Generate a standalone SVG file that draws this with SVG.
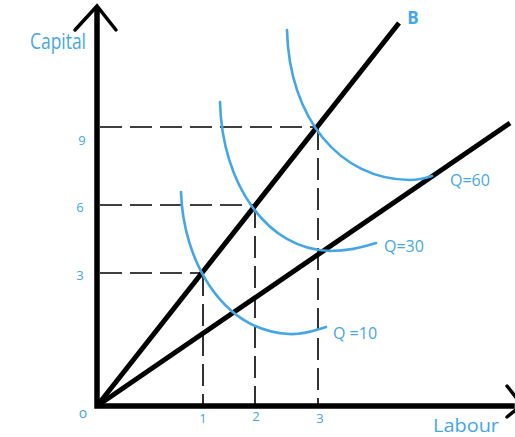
<svg xmlns="http://www.w3.org/2000/svg" width="515" height="437" viewBox="0 0 515 437">
<style>
.axis{stroke:#000;stroke-width:5.5;fill:none;stroke-linecap:square}
.head{stroke:#000;stroke-width:3.5;fill:none;stroke-linecap:round;stroke-linejoin:miter}
.ray{stroke:#000;stroke-width:5;fill:none;stroke-linecap:butt}
.dash{stroke:#000;stroke-width:1.6;fill:none;stroke-dasharray:22 8}
.iso{stroke:#45a6e6;stroke-width:2.6;fill:none;stroke-linecap:round}
.lbl{fill:#45a6e6;font-family:"Open Sans","Noto Sans",sans-serif}
</style>
<rect width="515" height="437" fill="#fff"/>
<g id="connectors">
<path class="dash" d="M100,127 H316"/>
<path class="dash" d="M100,205 H254"/>
<path class="dash" d="M100,273 H201"/>
<path class="dash" d="M203,274 V404"/>
<path class="dash" d="M255,206 V404"/>
<path class="dash" d="M318,128 V404"/>
<path class="ray" d="M97,406 L399,23"/>
<path class="ray" d="M97,406 L510,123"/>
</g>
<g id="axes">
<path class="axis" d="M97,10 V406 H512"/>
<path class="head" d="M75,30 L97,6 L116,30"/>
<path class="head" d="M507,386 L522,405 L507,417"/>
<text class="lbl" x="30" y="49" font-size="21" textLength="56" lengthAdjust="spacingAndGlyphs">Capital</text>
<text class="lbl" x="433" y="432" font-size="19" textLength="66" lengthAdjust="spacingAndGlyphs">Labour</text>
<text class="lbl" x="83" y="418" font-size="14" text-anchor="middle">o</text>
<text class="lbl" x="82" y="145" font-size="13" text-anchor="middle">9</text>
<text class="lbl" x="80" y="212" font-size="13" text-anchor="middle">6</text>
<text class="lbl" x="80" y="280" font-size="13" text-anchor="middle">3</text>
<text class="lbl" x="203" y="423" font-size="13" text-anchor="middle">1</text>
<text class="lbl" x="256" y="421" font-size="13" text-anchor="middle">2</text>
<text class="lbl" x="320" y="423" font-size="13" text-anchor="middle">3</text>
</g>
<g id="lineB">
<text class="lbl" x="413" y="24" font-size="17" font-weight="bold" text-anchor="middle">B</text>
</g>
<g id="q10">
<path class="iso" d="M181,192 C183,258 220,330 289,334 C305,335 315,330 326,327"/>
<text class="lbl" x="333" y="339" font-size="16">Q =10</text>
</g>
<g id="q30">
<path class="iso" d="M220,102 C222,185 268,250 330,251 C350,251 362,247 376,243"/>
<text class="lbl" x="384" y="252" font-size="16">Q=30</text>
</g>
<g id="q60">
<path class="iso" d="M287,30 C289,118 340,180 410,180 C420,180 426,178 432,176"/>
<text class="lbl" x="450" y="186" font-size="16">Q=60</text>
</g>
</svg>
